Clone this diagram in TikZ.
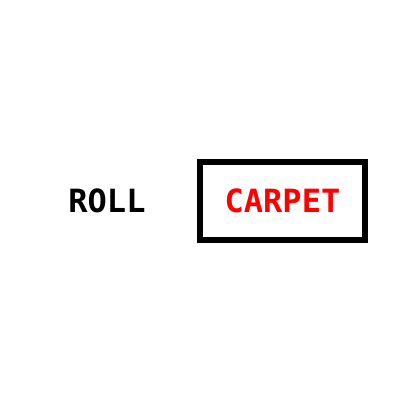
\documentclass[tikz,border=0pt]{standalone}
\usepackage{fontspec}
\setmonofont{DejaVu Sans Mono}
\usetikzlibrary{positioning}
\begin{document}
\begin{tikzpicture}[x=1pt,y=1pt,nodes={font=\ttfamily\bfseries\fontsize{32}{32}\selectfont}]
		\useasboundingbox (0,0) rectangle (400,400);
		\node (roll) at (107,199) {ROLL};
		\node (carpet) [draw, line width=5.5pt, text=red, minimum width=165pt, minimum height=78pt] at (282.5,199) {CARPET};
		\end{tikzpicture}
\end{document}
